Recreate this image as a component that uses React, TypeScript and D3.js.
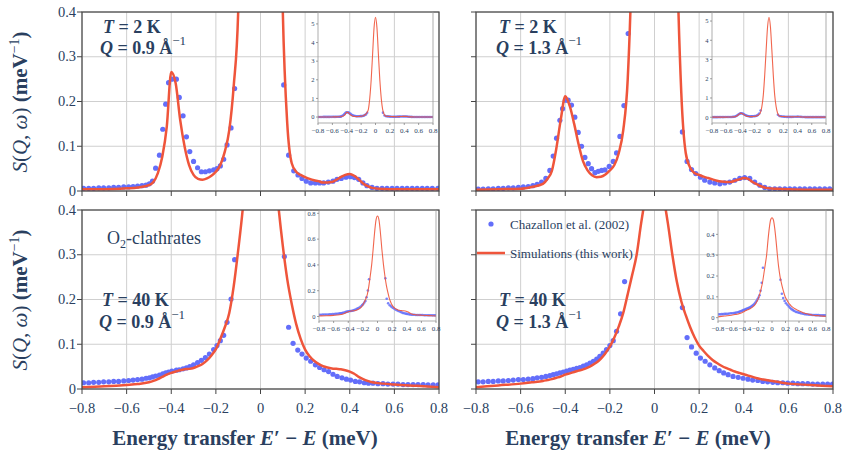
import React from "react";
import * as d3 from "d3";

// ---------- data ----------
const E_CURVE = [-0.8,-0.7,-0.6,-0.55,-0.5,-0.48,-0.46,-0.44,-0.42,-0.4,
  -0.38,-0.36,-0.34,-0.32,-0.3,-0.28,-0.26,-0.24,-0.22,-0.2,
  -0.18,-0.16,-0.14,-0.12,-0.1,-0.08,-0.06,-0.04,-0.02,0,
  0.02,0.04,0.06,0.08,0.1,0.12,0.14,0.16,0.18,0.2,
  0.22,0.24,0.26,0.28,0.3,0.32,0.34,0.36,0.38,0.4,
  0.42,0.44,0.46,0.48,0.5,0.55,0.6,0.7,0.8];

const SIM_T2_Q09 = [0.004,0.004,0.006,0.008,0.013,0.020,0.040,0.077,0.144,0.266,
  0.240,0.159,0.099,0.058,0.036,0.027,0.025,0.028,0.034,0.043,
  0.058,0.088,0.136,0.235,0.400,1.00,2.00,3.40,4.80,5.35,
  4.80,3.40,2.00,1.00,0.40,0.15,0.062,0.043,0.036,0.031,
  0.027,0.024,0.022,0.019,0.019,0.020,0.025,0.031,0.036,0.038,
  0.034,0.026,0.017,0.011,0.007,0.0045,0.004,0.004,0.004];

const SIM_T2_Q13 = [0.003,0.004,0.005,0.009,0.016,0.027,0.045,0.095,0.160,0.212,
  0.190,0.150,0.104,0.066,0.046,0.035,0.031,0.032,0.037,0.046,
  0.058,0.085,0.136,0.250,0.550,1.15,2.20,3.50,4.70,5.20,
  4.70,3.50,2.20,1.15,0.55,0.22,0.085,0.052,0.040,0.036,
  0.032,0.029,0.026,0.023,0.021,0.020,0.020,0.023,0.026,0.029,
  0.027,0.020,0.015,0.010,0.007,0.005,0.004,0.003,0.003];

const SIM_T40_Q09 = [0.004,0.006,0.009,0.011,0.015,0.018,0.022,0.027,0.032,0.036,
  0.039,0.042,0.044,0.045,0.047,0.051,0.056,0.064,0.075,0.089,
  0.112,0.138,0.170,0.230,0.310,0.400,0.520,0.650,0.750,0.780,
  0.750,0.650,0.520,0.410,0.320,0.245,0.190,0.145,0.112,0.088,
  0.073,0.063,0.056,0.051,0.048,0.046,0.045,0.044,0.042,0.039,
  0.034,0.027,0.022,0.018,0.015,0.012,0.010,0.007,0.004];

const SIM_T40_Q13 = [0.004,0.008,0.012,0.015,0.018,0.020,0.022,0.025,0.028,0.032,
  0.035,0.038,0.041,0.044,0.048,0.053,0.059,0.068,0.080,0.095,
  0.115,0.140,0.170,0.212,0.255,0.300,0.370,0.430,0.470,0.480,
  0.470,0.430,0.370,0.300,0.240,0.196,0.165,0.138,0.115,0.097,
  0.085,0.074,0.065,0.058,0.052,0.047,0.043,0.039,0.036,0.033,
  0.030,0.027,0.024,0.022,0.020,0.016,0.012,0.009,0.006];

const EXP_T2_Q09_E = [-0.793,-0.770,-0.748,-0.725,-0.703,-0.680,-0.658,-0.636,-0.613,-0.591,
  -0.571,-0.551,-0.531,-0.513,-0.498,-0.484,-0.470,-0.453,-0.438,-0.425,
  -0.412,-0.397,-0.377,-0.364,-0.347,-0.332,-0.317,-0.300,-0.282,-0.265,
  -0.247,-0.229,-0.210,-0.195,-0.180,-0.165,-0.150,-0.132,-0.116,
  0.104,0.126,0.149,0.168,0.186,0.205,0.225,0.246,0.265,0.283,
  0.304,0.325,0.343,0.362,0.383,0.403,0.421,0.440,0.459,0.477,
  0.500,0.522,0.545,0.567,0.590,0.612,0.635,0.657,0.680,0.702,
  0.725,0.747,0.770,0.795];
const EXP_T2_Q09_S = [0.006,0.006,0.006,0.007,0.007,0.007,0.008,0.008,0.009,0.009,
  0.010,0.011,0.012,0.013,0.016,0.022,0.051,0.080,0.138,0.194,
  0.242,0.250,0.250,0.209,0.168,0.121,0.088,0.066,0.052,0.043,
  0.043,0.045,0.047,0.050,0.056,0.071,0.103,0.141,0.229,
  0.237,0.080,0.045,0.036,0.028,0.022,0.018,0.018,0.018,0.018,
  0.020,0.022,0.026,0.028,0.031,0.032,0.030,0.026,0.018,0.012,
  0.008,0.006,0.006,0.006,0.006,0.006,0.006,0.006,0.006,0.006,
  0.006,0.006,0.006,0.006];

const EXP_T2_Q13_E = [-0.790,-0.768,-0.745,-0.723,-0.700,-0.678,-0.655,-0.633,-0.610,-0.588,
  -0.566,-0.545,-0.526,-0.506,-0.487,-0.469,-0.454,-0.439,-0.424,-0.412,
  -0.399,-0.387,-0.372,-0.357,-0.342,-0.327,-0.312,-0.297,-0.282,-0.267,
  -0.252,-0.237,-0.222,-0.203,-0.185,-0.170,-0.155,-0.137,-0.118,
  0.125,0.146,0.166,0.185,0.206,0.225,0.248,0.270,0.293,0.315,
  0.337,0.360,0.382,0.404,0.427,0.449,0.472,0.494,0.516,0.539,
  0.561,0.584,0.606,0.628,0.651,0.673,0.696,0.718,0.740,0.763,0.785];
const EXP_T2_Q13_S = [0.004,0.004,0.005,0.005,0.006,0.006,0.007,0.007,0.008,0.009,
  0.010,0.012,0.015,0.020,0.028,0.046,0.078,0.118,0.158,0.184,
  0.203,0.203,0.192,0.165,0.131,0.100,0.075,0.061,0.050,0.041,
  0.044,0.046,0.047,0.055,0.066,0.085,0.122,0.191,0.352,
  0.132,0.066,0.048,0.039,0.031,0.024,0.020,0.018,0.016,0.018,
  0.020,0.024,0.028,0.030,0.028,0.020,0.013,0.008,0.005,0.005,
  0.005,0.005,0.005,0.005,0.005,0.005,0.005,0.005,0.005,0.005,0.005];

const EXP_T40_Q09_E = [-0.793,-0.770,-0.748,-0.725,-0.703,-0.680,-0.658,-0.636,-0.613,-0.591,
  -0.571,-0.551,-0.531,-0.513,-0.498,-0.484,-0.470,-0.453,-0.438,-0.425,
  -0.412,-0.397,-0.377,-0.364,-0.347,-0.332,-0.317,-0.300,-0.282,-0.265,
  -0.247,-0.229,-0.210,-0.195,-0.180,-0.165,-0.150,-0.132,-0.116,
  0.107,0.126,0.146,0.167,0.186,0.205,0.225,0.246,0.265,0.285,
  0.305,0.325,0.344,0.365,0.385,0.404,0.425,0.444,0.465,0.484,
  0.504,0.526,0.549,0.571,0.594,0.616,0.639,0.661,0.684,0.706,
  0.729,0.751,0.774,0.796];
const EXP_T40_Q09_S = [0.014,0.014,0.015,0.015,0.016,0.016,0.017,0.017,0.018,0.019,
  0.020,0.021,0.022,0.024,0.025,0.027,0.029,0.031,0.034,0.036,
  0.038,0.040,0.042,0.043,0.045,0.047,0.050,0.054,0.059,0.064,
  0.070,0.078,0.088,0.097,0.108,0.120,0.149,0.201,0.289,
  0.296,0.138,0.102,0.087,0.078,0.069,0.062,0.054,0.048,0.043,
  0.039,0.033,0.028,0.025,0.022,0.020,0.017,0.016,0.014,0.013,
  0.013,0.012,0.012,0.011,0.011,0.011,0.010,0.010,0.010,0.010,
  0.010,0.009,0.009,0.009];

const EXP_T40_Q13_E = [-0.790,-0.768,-0.745,-0.723,-0.700,-0.678,-0.655,-0.633,-0.610,-0.588,
  -0.566,-0.545,-0.526,-0.506,-0.487,-0.469,-0.454,-0.439,-0.424,-0.409,
  -0.394,-0.379,-0.364,-0.349,-0.334,-0.319,-0.304,-0.289,-0.274,-0.259,
  -0.245,-0.230,-0.215,-0.200,-0.185,-0.170,-0.152,-0.134,
  0.125,0.146,0.166,0.187,0.206,0.227,0.248,0.270,0.290,0.310,
  0.330,0.352,0.375,0.397,0.419,0.440,0.463,0.485,0.507,0.530,
  0.552,0.575,0.597,0.620,0.642,0.664,0.687,0.709,0.731,0.754,0.776,0.798];
const EXP_T40_Q13_S = [0.016,0.016,0.017,0.017,0.018,0.018,0.019,0.020,0.021,0.021,
  0.022,0.023,0.025,0.026,0.028,0.030,0.032,0.034,0.036,0.038,
  0.040,0.042,0.044,0.046,0.048,0.051,0.054,0.058,0.062,0.067,
  0.073,0.080,0.088,0.097,0.108,0.129,0.168,0.240,
  0.182,0.115,0.094,0.080,0.069,0.062,0.054,0.047,0.041,0.036,
  0.032,0.028,0.026,0.024,0.022,0.020,0.019,0.017,0.016,0.015,
  0.014,0.014,0.013,0.013,0.012,0.012,0.012,0.011,0.011,0.011,0.011,0.011];

const X_TICKS = [-0.8, -0.6, -0.4, -0.2, 0, 0.2, 0.4, 0.6, 0.8];
const Y_TICKS = [0, 0.1, 0.2, 0.3, 0.4];
const INSET_TICKS_T2 = [0, 1, 2, 3, 4, 5];
const INSET_TICKS_T40_Q09 = [0, 0.2, 0.4, 0.6, 0.8];
const INSET_TICKS_T40_Q13 = [0, 0.1, 0.2, 0.3, 0.4];
const LEGEND_LABELS = ["Chazallon et al. (2002)", "Simulations (this work)"];

// ---------- style ----------
const BLUE = "#636efa";
const RED = "#ef553b";
const TEXT = "#2a3f5f";
const GRID = "#cfcfcf";
const AXIS = "#444";
const SERIF = { fontFamily: '"Liberation Serif", "DejaVu Serif", "Times New Roman", serif' };

const fmtX = (v: number) =>
  Math.abs(v) < 1e-9 ? "0" : (v < 0 ? "\u2212" : "") + Math.abs(v).toFixed(1);
const fmtInt = (v: number) => String(v);

type Inset = {
  x0: number; x1: number; top: number; bottom: number;
  dom: [number, number]; ticks: number[]; fmt: (v: number) => string;
};

type PanelProps = {
  id: string;
  left: number; right: number; top: number; bottom: number;
  expE: number[]; expS: number[]; sim: number[];
  inset: Inset; showX: boolean; showY: boolean;
};

function Panel(p: PanelProps) {
  const x = d3.scaleLinear().domain([-0.8, 0.8]).range([p.left, p.right]);
  const y = d3.scaleLinear().domain([0, 0.4]).range([p.bottom, p.top]);
  const line = d3.line<number>()
    .x((_, i) => x(E_CURVE[i]))
    .y((d) => y(d))
    .curve(d3.curveMonotoneX);
  const ins = p.inset;
  const ix = d3.scaleLinear().domain([-0.8, 0.8]).range([ins.x0, ins.x1]);
  const iy = d3.scaleLinear().domain(ins.dom).range([ins.bottom, ins.top]);
  const iline = d3.line<number>()
    .x((_, i) => ix(E_CURVE[i]))
    .y((d) => iy(d))
    .curve(d3.curveMonotoneX);

  return (
    <g>
      <defs>
        <clipPath id={p.id + "-c"}>
          <rect x={p.left} y={p.top} width={p.right - p.left} height={p.bottom - p.top} />
        </clipPath>
        <clipPath id={p.id + "-i"}>
          <rect x={ins.x0} y={ins.top} width={ins.x1 - ins.x0} height={ins.bottom - ins.top} />
        </clipPath>
      </defs>
      {X_TICKS.map((t) => (
        <line key={"gx" + t} x1={x(t)} x2={x(t)} y1={p.top} y2={p.bottom} stroke={GRID} strokeWidth={1} />
      ))}
      {Y_TICKS.map((t) => (
        <line key={"gy" + t} x1={p.left} x2={p.right} y1={y(t)} y2={y(t)} stroke={GRID} strokeWidth={1} />
      ))}
      <g clipPath={`url(#${p.id}-c)`}>
        {p.expE.map((e, i) => (
          <circle key={"d" + i} cx={x(e)} cy={y(p.expS[i])} r={2.6} fill={BLUE} />
        ))}
        <path d={line(p.sim) || ""} fill="none" stroke={RED} strokeWidth={2.5} strokeLinejoin="round" />
      </g>
      <rect x={p.left} y={p.top} width={p.right - p.left} height={p.bottom - p.top} fill="none" stroke={AXIS} strokeWidth={1.2} />
      {X_TICKS.map((t) => (
        <line key={"tx" + t} x1={x(t)} x2={x(t)} y1={p.bottom} y2={p.bottom + 5} stroke={AXIS} strokeWidth={1} />
      ))}
      {Y_TICKS.map((t) => (
        <line key={"ty" + t} x1={p.left - 5} x2={p.left} y1={y(t)} y2={y(t)} stroke={AXIS} strokeWidth={1} />
      ))}
      {p.showX && X_TICKS.map((t) => (
        <text key={"lx" + t} x={x(t)} y={p.bottom + 24} textAnchor="middle" fontSize={14.5} fill={TEXT} style={SERIF}>
          {fmtX(t)}
        </text>
      ))}
      {p.showY && Y_TICKS.map((t) => (
        <text key={"ly" + t} x={p.left - 6} y={y(t) + 4.5} textAnchor="end" fontSize={14.5} fill={TEXT} style={SERIF}>
          {fmtX(t)}
        </text>
      ))}
      <g>
        <g clipPath={`url(#${p.id}-i)`}>
          {p.expE.map((e, i) => (
            <circle key={"id" + i} cx={ix(e)} cy={iy(p.expS[i])} r={1.3} fill={BLUE} opacity={0.85} />
          ))}
          <path d={iline(p.sim) || ""} fill="none" stroke={RED} strokeWidth={1.1} opacity={0.9} />
        </g>
        <rect x={ins.x0} y={ins.top} width={ins.x1 - ins.x0} height={ins.bottom - ins.top} fill="none" stroke="#999" strokeWidth={0.8} />
        {X_TICKS.map((t) => (
          <g key={"ix" + t}>
            <line x1={ix(t)} x2={ix(t)} y1={ins.bottom} y2={ins.bottom + 2} stroke="#777" strokeWidth={0.7} />
            <text x={ix(t)} y={ins.bottom + 10} textAnchor="middle" fontSize={7} fill={TEXT} style={SERIF}>
              {fmtX(t)}
            </text>
          </g>
        ))}
        {ins.ticks.map((t) => (
          <g key={"iy" + t}>
            <line x1={ins.x0 - 2} x2={ins.x0} y1={iy(t)} y2={iy(t)} stroke="#777" strokeWidth={0.7} />
            <text x={ins.x0 - 3.5} y={iy(t) + 2.3} textAnchor="end" fontSize={6.5} fill={TEXT} style={SERIF}>
              {ins.fmt(t)}
            </text>
          </g>
        ))}
      </g>
    </g>
  );
}

function TQ({ x, y1, y2, T, Q }: { x: number; y1: number; y2: number; T: string; Q: string }) {
  return (
    <g style={SERIF} fill={TEXT} fontWeight="bold" fontSize={18}>
      <text x={x + 3} y={y1}>
        <tspan fontStyle="italic">T</tspan>
        <tspan>{" = " + T + " K"}</tspan>
      </text>
      <text x={x} y={y2}>
        <tspan fontStyle="italic">Q</tspan>
        <tspan>{" = " + Q + " Å"}</tspan>
        <tspan dy={-9} fontSize={13} fontWeight="normal">{"\u22121"}</tspan>
      </text>
    </g>
  );
}

function YLabel({ cx, cy }: { cx: number; cy: number }) {
  return (
    <text transform={`translate(${cx},${cy}) rotate(-90)`} textAnchor="middle" style={SERIF} fontSize={21} fill={TEXT}>
      <tspan fontStyle="italic">S</tspan>
      <tspan>(</tspan>
      <tspan fontStyle="italic">Q</tspan>
      <tspan>, </tspan>
      <tspan fontStyle="italic">ω</tspan>
      <tspan>) </tspan>
      <tspan fontWeight="bold">(meV</tspan>
      <tspan fontSize={14} dy={-8}>{"\u22121"}</tspan>
      <tspan fontWeight="bold" dy={8}>)</tspan>
    </text>
  );
}

function XLabel({ cx, y }: { cx: number; y: number }) {
  return (
    <text x={cx} y={y} textAnchor="middle" style={SERIF} fontSize={21} fill={TEXT} fontWeight="bold">
      <tspan>Energy transfer </tspan>
      <tspan fontStyle="italic">E</tspan>
      <tspan>{"\u2032 \u2212 "}</tspan>
      <tspan fontStyle="italic">E</tspan>
      <tspan>{" (meV)"}</tspan>
    </text>
  );
}

export default function App() {
  const L = { left: 82, right: 439 };
  const R = { left: 476, right: 833 };
  const T = { top: 12, bottom: 191 };
  const B = { top: 210, bottom: 389 };
  return (
    <svg width={842} height={451} viewBox="0 0 842 451" style={{ position: "absolute", left: 0, top: 0, background: "#fff" }}>
      <rect x={0} y={0} width={842} height={451} fill="#fff" />
      <Panel id="tl" {...L} {...T} expE={EXP_T2_Q09_E} expS={EXP_T2_Q09_S} sim={SIM_T2_Q09}
        inset={{ x0: 318, x1: 433, top: 12, bottom: 123, dom: [-0.32, 5.64], ticks: INSET_TICKS_T2, fmt: fmtInt }}
        showX={false} showY={true} />
      <Panel id="tr" {...R} {...T} expE={EXP_T2_Q13_E} expS={EXP_T2_Q13_S} sim={SIM_T2_Q13}
        inset={{ x0: 712, x1: 826, top: 12, bottom: 123, dom: [-0.3, 5.47], ticks: INSET_TICKS_T2, fmt: fmtInt }}
        showX={false} showY={false} />
      <Panel id="bl" {...L} {...B} expE={EXP_T40_Q09_E} expS={EXP_T40_Q09_S} sim={SIM_T40_Q09}
        inset={{ x0: 319, x1: 436, top: 210, bottom: 321, dom: [-0.035, 0.826], ticks: INSET_TICKS_T40_Q09, fmt: fmtX }}
        showX={true} showY={true} />
      <Panel id="br" {...R} {...B} expE={EXP_T40_Q13_E} expS={EXP_T40_Q13_S} sim={SIM_T40_Q13}
        inset={{ x0: 718, x1: 826, top: 210, bottom: 321, dom: [-0.016, 0.517], ticks: INSET_TICKS_T40_Q13, fmt: fmtX }}
        showX={true} showY={false} />

      <TQ x={100} y1={33} y2={54} T="2" Q="0.9" />
      <TQ x={496} y1={33} y2={54} T="2" Q="1.3" />
      <TQ x={99} y1={306} y2={328} T="40" Q="0.9" />
      <TQ x={496} y1={306} y2={328} T="40" Q="1.3" />

      <text x={107} y={244} style={SERIF} fontSize={18} fill={TEXT}>
        <tspan>O</tspan>
        <tspan fontSize={12} dy={4}>2</tspan>
        <tspan dy={-4}>-clathrates</tspan>
      </text>

      <circle cx={491} cy={224} r={2.6} fill={BLUE} />
      <text x={510} y={228.5} style={SERIF} fontSize={13} fill={TEXT}>{LEGEND_LABELS[0]}</text>
      <line x1={477} x2={505} y1={253} y2={253} stroke={RED} strokeWidth={2.5} />
      <text x={510} y={257.5} style={SERIF} fontSize={13} fill={TEXT}>{LEGEND_LABELS[1]}</text>

      <YLabel cx={27} cy={102} />
      <YLabel cx={27} cy={300} />
      <XLabel cx={245} y={445} />
      <XLabel cx={638} y={445} />
    </svg>
  );
}
